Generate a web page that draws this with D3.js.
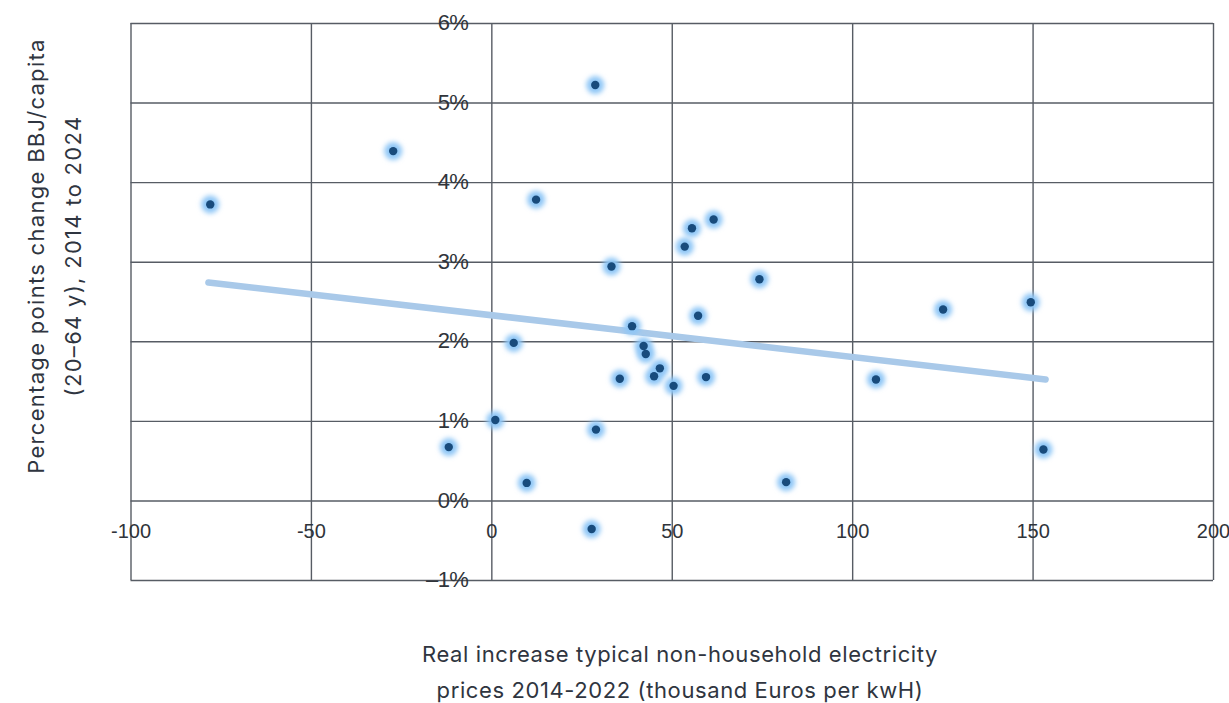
<!DOCTYPE html>
<html>
<head>
<meta charset="utf-8">
<script src="https://cdn.jsdelivr.net/npm/d3@7"></script>
<style>
  body { margin: 0; background: #fff; }
  svg { display: block; }
</style>
</head>
<body>
<div id="chart"></div>
<script>
// price increase (thousand Euros per kWh) vs. pp change BBJ/capita
const priceIncrease = [
  -77.9, -27.2, 12.4, 28.8, 33.3, 55.6, 53.6, 61.6, 74.3, 39.0,
  57.3, 6.2, 42.2, 42.8, 46.7, 35.6, 45.1, 50.5, 59.5, 1.1,
  29.0, -11.8, 9.8, 81.7, 27.8, 125.2, 149.5, 106.6, 153.0
];
const bbjChange = [
  3.72, 4.39, 3.78, 5.22, 2.94, 3.42, 3.19, 3.53, 2.78, 2.19,
  2.32, 1.98, 1.94, 1.84, 1.66, 1.53, 1.56, 1.44, 1.55, 1.01,
  0.89, 0.67, 0.22, 0.23, -0.36, 2.40, 2.49, 1.52, 0.64
];

// trend line ends
const trendX = [-78.4, 153.6];
const trendY = [2.74, 1.52];

const xTicks = [-100, -50, 0, 50, 100, 150, 200];
const xTickLabels = ["-100", "-50", "0", "50", "100", "150", "200"];
const yTicks = [-1, 0, 1, 2, 3, 4, 5, 6];
const yTickLabels = ["\u20131%", "0%", "1%", "2%", "3%", "4%", "5%", "6%"];

const xTitle = ["Real increase typical non-household electricity",
                "prices 2014-2022 (thousand Euros per kwH)"];
const yTitle = ["Percentage points change BBJ/capita",
                "(20\u201364 y), 2014 to 2024"];

const W = 1229, H = 703;
const margin = { top: 23, right: 16, bottom: 123, left: 130.5 };
const width = W - margin.left - margin.right;
const height = H - margin.top - margin.bottom;

const svg = d3.select("#chart").append("svg")
  .attr("width", W)
  .attr("height", H);

const defs = svg.append("defs");
defs.append("filter")
  .attr("id", "glow")
  .attr("x", "-100%").attr("y", "-100%")
  .attr("width", "300%").attr("height", "300%")
  .append("feGaussianBlur")
  .attr("stdDeviation", 2.8);

const g = svg.append("g")
  .attr("transform", `translate(${margin.left},${margin.top})`);

const x = d3.scaleLinear().domain([-100, 200]).range([0, width]);
const y = d3.scaleLinear().domain([-1, 6]).range([height, 0]);

const gridColor = "#575c64";

// grid lines
g.append("g")
  .attr("class", "grid-x")
  .attr("transform", `translate(0,${height})`)
  .call(d3.axisBottom(x).tickValues(xTicks).tickSize(-height).tickFormat(""))
  .call((s) => s.select(".domain").remove())
  .call((s) => s.selectAll("line").attr("stroke", gridColor).attr("stroke-width", 1.4));

g.append("g")
  .attr("class", "grid-y")
  .call(d3.axisLeft(y).tickValues(yTicks).tickSize(-width).tickFormat(""))
  .call((s) => s.select(".domain").remove())
  .call((s) => s.selectAll("line").attr("stroke", gridColor).attr("stroke-width", 1.4));

// tick labels sit on the zero lines
const xAxis = g.append("g")
  .attr("transform", `translate(0,${y(0)})`)
  .call(d3.axisBottom(x).tickValues(xTicks).tickSize(0).tickPadding(23)
    .tickFormat((d, i) => xTickLabels[i]));
xAxis.select(".domain").remove();
xAxis.selectAll("text")
  .attr("font-family", "'Liberation Sans', Arial, sans-serif")
  .attr("font-size", 20)
  .attr("fill", "#30343a");

const yAxis = g.append("g")
  .attr("transform", `translate(${x(0)},0)`)
  .call(d3.axisLeft(y).tickValues(yTicks).tickSize(0).tickPadding(23)
    .tickFormat((d, i) => yTickLabels[i]));
yAxis.select(".domain").remove();
yAxis.selectAll("text")
  .attr("font-family", "'Liberation Sans', Arial, sans-serif")
  .attr("font-size", 22)
  .attr("letter-spacing", -0.6)
  .attr("dy", "0.30em")
  .attr("fill", "#30343a");

// trend line
const line = d3.line()
  .x((d) => x(d[0]))
  .y((d) => y(d[1]));

g.append("path")
  .datum(d3.zip(trendX, trendY))
  .attr("fill", "none")
  .attr("stroke", "#a9c9e9")
  .attr("stroke-width", 6.5)
  .attr("stroke-linecap", "round")
  .attr("d", line);

// points
const points = d3.zip(priceIncrease, bbjChange);

g.append("g")
  .selectAll("circle")
  .data(points)
  .join("circle")
  .attr("cx", (d) => x(d[0]))
  .attr("cy", (d) => y(d[1]))
  .attr("r", 9)
  .attr("fill", "#8ec6f6")
  .attr("filter", "url(#glow)");

g.append("g")
  .selectAll("circle")
  .data(points)
  .join("circle")
  .attr("cx", (d) => x(d[0]))
  .attr("cy", (d) => y(d[1]))
  .attr("r", 4.2)
  .attr("fill", "#184b7c");

// axis titles
const titleFont = "Inter, 'Noto Sans', sans-serif";

svg.append("text")
  .attr("font-family", titleFont)
  .attr("font-size", 22)
  .attr("letter-spacing", 0.6)
  .attr("fill", "#2f3540")
  .attr("text-anchor", "middle")
  .selectAll("tspan")
  .data(xTitle)
  .join("tspan")
  .attr("x", 680)
  .attr("y", (d, i) => 662 + i * 36)
  .text((d) => d);

svg.append("text")
  .attr("font-family", titleFont)
  .attr("font-size", 22)
  .attr("letter-spacing", 1.3)
  .attr("fill", "#2f3540")
  .attr("text-anchor", "middle")
  .attr("transform", "translate(0,256) rotate(-90)")
  .selectAll("tspan")
  .data(yTitle)
  .join("tspan")
  .attr("x", 0)
  .attr("y", (d, i) => 44 + i * 37)
  .text((d) => d);
</script>
</body>
</html>
